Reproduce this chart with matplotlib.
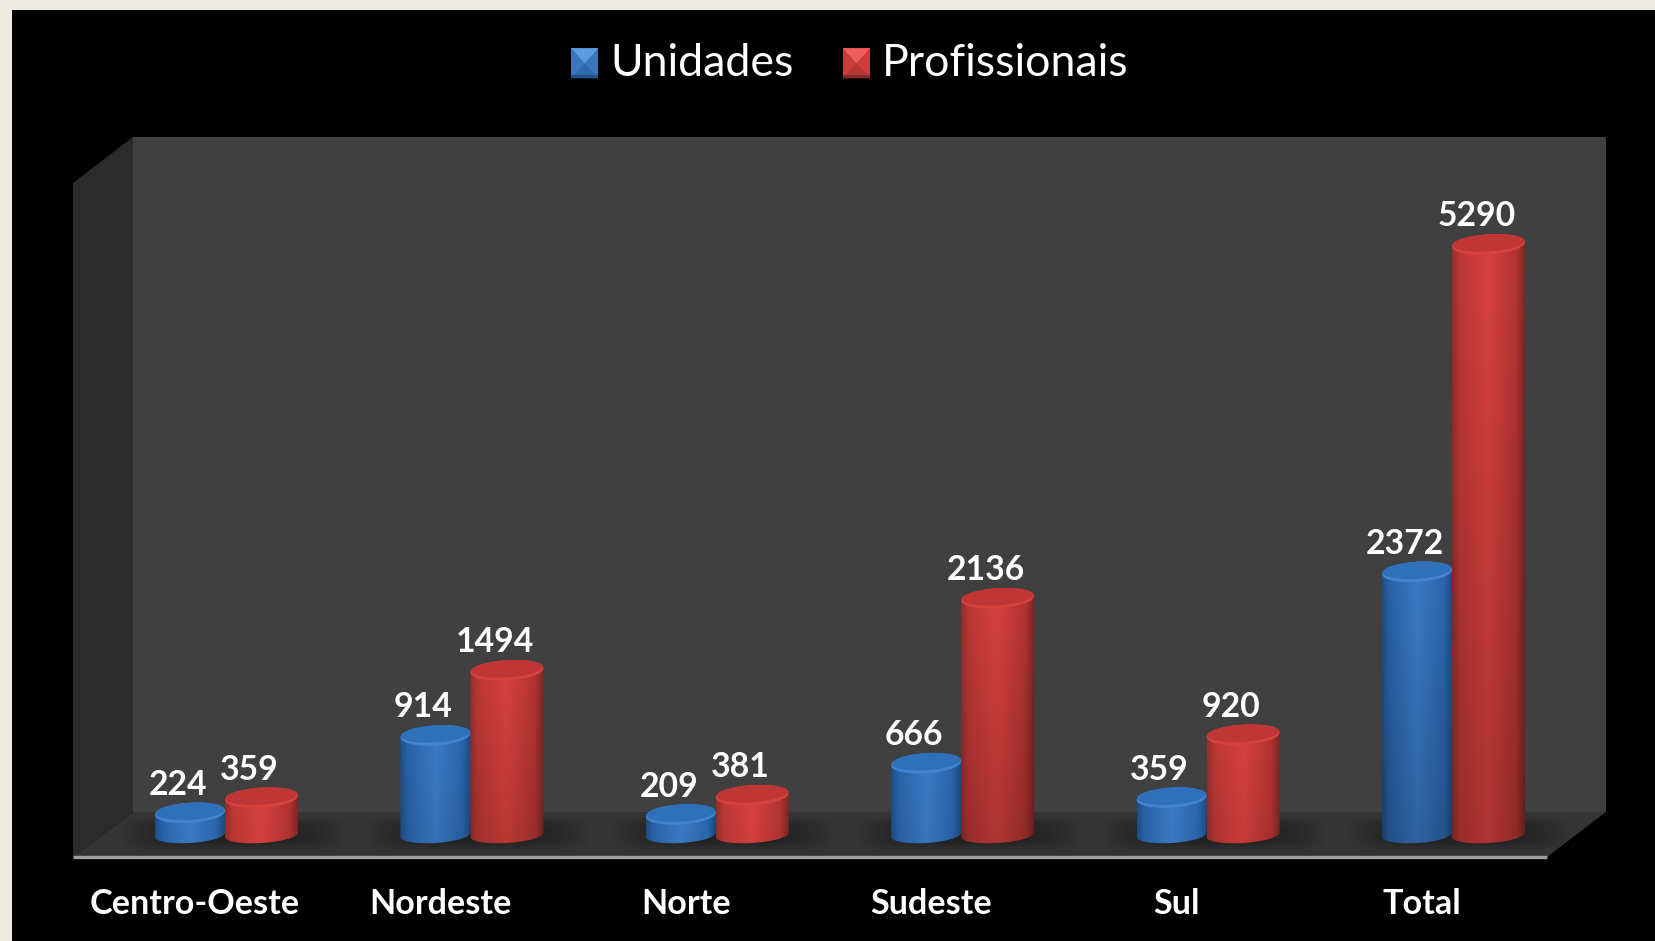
import numpy as np
import matplotlib
matplotlib.use('Agg')
from matplotlib import pyplot as plt
from matplotlib.colors import LinearSegmentedColormap
from matplotlib.legend_handler import HandlerBase
from matplotlib.patches import Patch, PathPatch, Polygon
from matplotlib.path import Path
from matplotlib.transforms import ScaledTranslation

categorias = ['Centro-Oeste', 'Nordeste', 'Norte', 'Sudeste', 'Sul', 'Total']
unidades = [224, 914, 209, 666, 359, 2372]
profissionais = [359, 1494, 381, 2136, 920, 5290]

W, H = 1656, 941
DPI = 100
plt.rcParams['font.family'] = ['Lato', 'DejaVu Sans']

# pixel scale of the category axes
GROUP_PX = 245.4
GROUP0_PX = 225
ZERO_PX = 838
VAL_PX = 0.1122
BLUE_W = 70
RED_W = 73

BLUE = [(0, '#1f4e86'), (0.1, '#2a63a8'), (0.5, '#3a7cc8'), (0.88, '#2c66ad'), (1, '#1e4b82')]
RED = [(0, '#93302c'), (0.1, '#bd3836'), (0.5, '#da413d'), (0.88, '#b43533'), (1, '#7f2724')]

fig = plt.figure(figsize=(W / DPI, H / DPI), dpi=DPI, facecolor='#eeebe0')

# background: black slide, walls and floor, in pixels
bg = fig.add_axes([0, 0, 1, 1])
bg.set_xlim(0, W)
bg.set_ylim(H, 0)
bg.axis('off')
bg.add_patch(Polygon([(12, 10), (W, 10), (W, H), (12, H)], fc='black', ec='none'))
bg.add_patch(Polygon([(133, 137), (1606, 137), (1606, 812), (133, 812)], fc='#404040', ec='none'))
bg.add_patch(Polygon([(73, 183), (133, 137), (133, 812), (73, 857)], fc='#2b2b2b', ec='none'))
bg.add_patch(Polygon([(73, 857), (133, 812), (1606, 812), (1547, 857)], fc='#343434', ec='none'))
bg.plot([73, 1547], [857, 857], color='#a0a0a0', lw=2.4, solid_capstyle='butt')

# soft shadow under each group
xx, yy = np.meshgrid(np.linspace(-1, 1, 200), np.linspace(-1, 1, 60))
fall = np.clip(1 - np.abs(xx) ** 3, 0, 1) * np.clip(1 - np.abs(yy) ** 3, 0, 1)
rgba = np.zeros(fall.shape + (4,))
rgba[..., 3] = 0.36 * fall
for i in range(len(categorias)):
    cx = GROUP0_PX + GROUP_PX * i
    bg.imshow(rgba, extent=[cx - 105, cx + 120, 850, 817], aspect='auto', zorder=2)
bg.set_xlim(0, W)
bg.set_ylim(H, 0)

# chart axes, categories on x and values on y
top_px, bot_px = 137, 857
ax = fig.add_axes([0, 1 - bot_px / H, 1, (bot_px - top_px) / H])
ax.patch.set_visible(False)
for s in ax.spines.values():
    s.set_visible(False)
xlim = (-GROUP0_PX / GROUP_PX, (W - GROUP0_PX) / GROUP_PX)
ylim = ((ZERO_PX - bot_px) / VAL_PX, (ZERO_PX - top_px) / VAL_PX)


def ellipse(cx, cy, a, b, tilt=0.06, t0=0, t1=2 * np.pi, n=80):
    # points in pixel offsets turned into data units
    t = np.linspace(t0, t1, n)
    dx = a * np.cos(t)
    dy = b * np.sin(t) + tilt * dx
    return np.column_stack([cx + dx / GROUP_PX, cy + dy / VAL_PX])


def cylinder(x, value, width, stops, rim, cap, z):
    a = width / 2
    arc = ellipse(x, 3 / VAL_PX, a, 8, t0=np.pi, t1=2 * np.pi)
    top = ellipse(x, value, a, 10, t0=0, t1=np.pi)
    outline = np.vstack([arc, top])
    patch = PathPatch(Path(outline), fc='none', ec='none', transform=ax.transData)
    ax.add_patch(patch)
    cmap = LinearSegmentedColormap.from_list('c', stops)
    grad = cmap(np.linspace(0, 1, 160))[np.newaxis, :, :].repeat(200, axis=0)
    # bars go a bit darker towards the floor
    shade = np.linspace(1, 1 - 0.2 * min(value / 2000, 1), 200)[:, None, None]
    grad[..., :3] = grad[..., :3] * shade
    im = ax.imshow(grad, extent=[x - a / GROUP_PX, x + a / GROUP_PX,
                                 -10 / VAL_PX, value + 12 / VAL_PX],
                   aspect='auto', zorder=z, interpolation='bilinear')
    im.set_clip_path(patch)
    ax.add_patch(Polygon(ellipse(x, value, a, 10), fc=rim, ec='none', zorder=z + 0.1))
    ax.add_patch(Polygon(ellipse(x, value + 1.6 / VAL_PX, a - 0.5, 8.6), fc=cap, ec='none', zorder=z + 0.2))


xb = BLUE_W / 2 / GROUP_PX
xr = RED_W / 2 / GROUP_PX
for i in range(len(categorias)):
    cylinder(i - xb, unidades[i], BLUE_W, BLUE, '#4384d0', '#2f70bb', 3 + i)
    cylinder(i + xr, profissionais[i], RED_W, RED, '#d6423e', '#c03634', 3.5 + i)
    for x, v in [(i - xb, unidades[i]), (i + xr, profissionais[i])]:
        ax.annotate(str(v), (x, v), xytext=(-12 * 72 / DPI, 28 * 72 / DPI),
                    textcoords='offset points', ha='center', va='center',
                    color='white', fontsize=24.3, fontweight='bold', zorder=20)

ax.set_xlim(xlim)
ax.set_ylim(ylim)
ax.set_yticks([])
ax.set_xticks(range(len(categorias)), categorias)
ax.tick_params(axis='x', length=0, pad=22.5, colors='white', labelsize=24.6)
shift = ScaledTranslation(-30 / DPI, 0, fig.dpi_scale_trans)
for lab in ax.get_xticklabels():
    lab.set_fontweight('bold')
    lab.set_transform(lab.get_transform() + shift)


# legend keys look like small bevelled squares
class BevelHandler(HandlerBase):
    def create_artists(self, legend, orig, xd, yd, width, height, fontsize, trans):
        light, mid, low, edge = orig.shades
        x0, y0 = xd * -1, yd * -1 - 0.08 * height
        x1, y1 = x0 + width, y0 + height
        mx, my = (x0 + x1) / 2, (y0 + y1) / 2
        tris = [([(x0, y0), (x1, y0), (x1, y1), (x0, y1)], mid),
                ([(x0, y0), (x1, y0), (mx, my)], low),
                ([(x0, y1), (x1, y1), (mx, my)], light),
                ([(x0, y0), (x1, y0), (x1, y0 + 0.1 * height), (x0, y0 + 0.1 * height)], edge)]
        return [Polygon(p, fc=c, ec='none', transform=trans) for p, c in tris]


h1 = Patch(label='Unidades')
h1.shades = ('#5a9ce3', '#3a76bd', '#3269ad', '#234f85')
h2 = Patch(label='Profissionais')
h2.shades = ('#ee5e5a', '#c93e3b', '#b53634', '#7f2c2a')
leg = fig.legend(handles=[h1, h2], handler_map={Patch: BevelHandler()},
                 loc='center', bbox_to_anchor=(850 / W, 1 - 64 / H), ncol=2,
                 frameon=False, fontsize=32.1, labelcolor='white',
                 handlelength=0.61, handleheight=0.66, handletextpad=0.27, columnspacing=1.1)

fig.savefig('out.png', dpi=DPI, facecolor=fig.get_facecolor())
